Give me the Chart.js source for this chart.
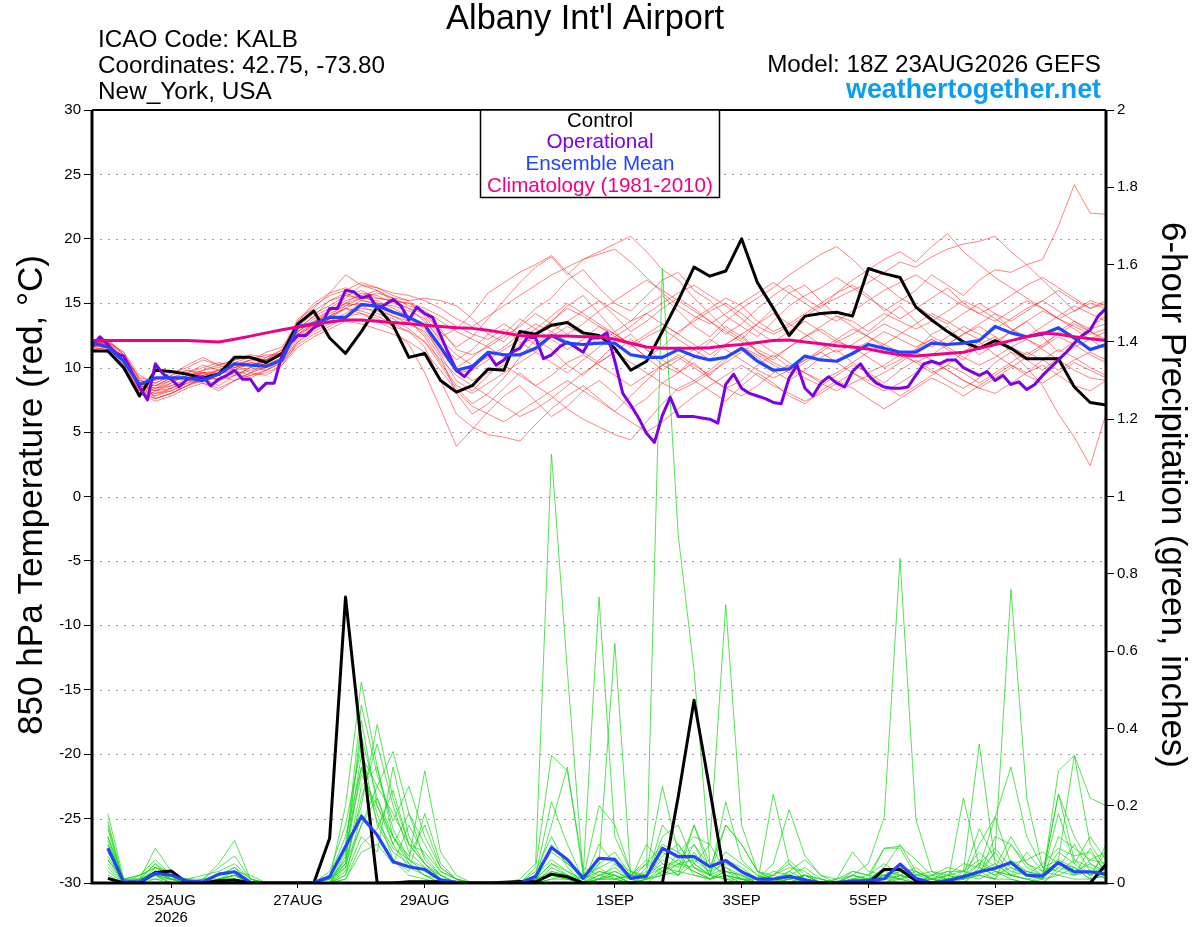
<!DOCTYPE html>
<html>
<head>
<meta charset="utf-8">
<title>Albany Int'l Airport - GEFS 850 hPa Temperature / 6-hour Precipitation</title>
<script src="https://cdn.jsdelivr.net/npm/chart.js@4.4.1/dist/chart.umd.min.js"></script>
<style>
  html, body { margin: 0; padding: 0; background: #fff; }
  canvas { display: block; }
</style>
</head>
<body>
<canvas id="gefsChart" width="1200" height="927"></canvas>
<script>
// x axis: forecast hour from 18Z 23AUG2026
const tickHours = [30, 78, 126, 198, 246, 294, 342];
const tickLabels = [['25AUG', '2026'], '27AUG', '29AUG', '1SEP', '3SEP', '5SEP', '7SEP'];

// 850 hPa temperature (C), every 6 h from hour 0
const controlTemp = [
  11.3, 11.3, 10.0, 7.8, 9.8, 9.7, 9.5, 9.2, 9.5, 10.8, 10.8, 10.4, 11.1,
  13.4, 14.4, 12.3, 11.1, 12.8, 14.7, 13.3, 10.8, 11.1, 9.0, 8.1, 8.6, 9.9,
  9.8, 12.8, 12.6, 13.3, 13.5, 12.7, 12.5, 11.5, 9.8, 10.5, 12.8, 15.2, 17.8,
  17.1, 17.5, 20.0, 16.6, 14.6, 12.5, 14.0, 14.2, 14.3, 14.0, 17.7, 17.3, 17.0,
  14.7, 13.7, 12.8, 12.0, 11.5, 12.1, 11.5, 10.7, 10.7, 10.7, 8.5, 7.3, 7.1
];
const meanTemp = [
  11.9, 11.6, 10.5, 8.7, 9.2, 9.2, 9.2, 9.0, 9.5, 10.3, 10.2, 10.1, 10.6,
  13.2, 13.4, 13.9, 13.9, 14.9, 14.8, 14.3, 13.9, 13.3, 11.6, 9.8, 10.1, 11.2,
  11.0, 11.0, 11.5, 12.5, 11.9, 11.8, 11.9, 11.9, 11.0, 10.8, 10.8, 11.4, 10.9,
  10.6, 10.8, 11.5, 10.5, 9.8, 9.9, 10.9, 10.6, 10.5, 11.1, 11.8, 11.5, 11.2,
  11.2, 11.9, 11.8, 11.9, 12.1, 13.2, 12.7, 12.4, 12.6, 13.1, 12.3, 11.4, 11.8
];
const climoTemp = [
  12.1, 12.1, 12.1, 12.1, 12.1, 12.1, 12.1, 12.05, 12.0, 12.2, 12.45, 12.7, 12.95,
  13.15, 13.35, 13.55, 13.7, 13.7, 13.6, 13.5, 13.4, 13.3, 13.2, 13.1, 13.05, 12.9,
  12.7, 12.5, 12.45, 12.45, 12.45, 12.4, 12.4, 12.2, 11.9, 11.6, 11.5, 11.5, 11.5,
  11.55, 11.7, 11.8, 11.95, 12.1, 12.15, 12.0, 11.85, 11.7, 11.6, 11.45, 11.2, 11.0,
  10.9, 11.0, 11.1, 11.2, 11.5, 11.8, 12.1, 12.4, 12.7, 12.6, 12.4, 12.25, 12.1
];
// operational run is 3-hourly
const operationalTemp = [
  11.6, 12.4, 11.8, 11.1, 10.9, 9.7, 8.5, 7.5, 10.3, 9.5,
  9.1, 8.5, 9.1, 9.2, 9.3, 8.6, 9.1, 9.4, 9.8, 9.1,
  9.1, 8.2, 8.8, 8.8, 11.0, 11.9, 12.5, 12.5, 13.1, 13.4,
  14.6, 14.6, 16.0, 15.9, 15.4, 15.6, 14.6, 14.9, 15.3, 14.8,
  13.7, 14.7, 14.2, 13.9, 12.5, 11.1, 9.8, 9.3, 10.0, 10.6,
  11.1, 10.2, 10.6, 11.2, 11.5, 12.4, 12.3, 10.7, 11.0, 11.6,
  12.0, 11.6, 11.2, 12.3, 12.3, 12.7, 10.5, 8.0, 7.1, 6.1,
  4.9, 4.2, 6.3, 7.7, 6.2, 6.2, 6.2, 6.1, 6.0, 5.7,
  8.7, 9.5, 8.4, 8.0, 7.8, 7.6, 7.3, 7.2, 9.2, 10.2,
  8.4, 7.8, 8.8, 9.3, 8.8, 8.5, 9.7, 10.3, 9.4, 8.8,
  8.5, 8.4, 8.4, 8.5, 9.4, 10.3, 10.5, 10.3, 10.6, 10.6,
  10.0, 9.7, 9.4, 9.7, 9.0, 9.4, 8.7, 8.9, 8.3, 8.7,
  9.4, 10.0, 10.6, 11.2, 11.9, 12.5, 12.9, 14.0, 14.6
];
// ensemble members, 6-hourly from hour 0
const tempMembers = [
  [12.0, 11.8, 10.6, 8.6, 8.2, 8.8, 9.4, 9.6, 9.0, 9.8, 10.4, 10.2, 10.8,
   12.6, 13.5, 14.2, 14.8, 15.4, 15.2, 14.6, 14.0, 13.2, 11.0, 9.0, 8.2, 9.4,
   10.6, 11.8, 12.4, 13.6, 14.8, 15.6, 14.2, 12.8, 11.6, 12.4, 13.0, 12.2, 11.4,
   10.6, 11.8, 12.6, 11.2, 10.4, 9.8, 10.6, 11.4, 12.2, 13.0, 12.4, 11.6, 10.8,
   11.4, 12.6, 13.2, 12.0, 11.0, 11.8, 12.8, 13.6, 12.4, 11.2, 12.0, 13.2, 14.0],
  [11.6, 12.2, 11.0, 9.2, 7.6, 8.0, 8.6, 9.2, 9.8, 10.2, 9.6, 10.4, 11.2,
   13.8, 14.6, 15.8, 16.2, 15.6, 16.0, 15.2, 15.0, 14.2, 12.8, 11.6, 12.4, 13.8,
   15.2, 16.6, 17.8, 18.6, 17.2, 18.4, 19.0, 19.6, 20.2, 19.0, 17.6, 16.8, 15.4,
   14.2, 13.0, 12.2, 13.4, 14.6, 15.8, 16.4, 15.2, 14.0, 13.6, 12.8, 13.8, 14.8,
   13.6, 12.4, 11.8, 12.6, 13.4, 14.2, 13.0, 12.2, 11.6, 12.8, 13.6, 12.8, 12.2],
  [12.2, 11.4, 10.2, 8.0, 7.4, 7.8, 8.4, 8.8, 8.2, 9.0, 9.6, 9.4, 10.2,
   12.0, 13.0, 13.8, 14.6, 14.2, 13.6, 13.0, 11.8, 9.6, 6.8, 3.9, 5.2, 6.6,
   7.8, 8.6, 7.4, 6.2, 7.0, 8.2, 9.0, 8.0, 6.8, 7.6, 8.8, 9.6, 10.4,
   9.2, 8.4, 9.0, 10.2, 11.0, 10.0, 9.2, 8.6, 9.4, 10.2, 9.6, 8.8, 9.8,
   10.6, 9.8, 9.0, 8.4, 9.2, 10.4, 11.2, 10.6, 9.8, 10.8, 11.6, 12.2, 11.4],
  [11.8, 12.0, 10.8, 8.8, 8.6, 9.2, 9.8, 9.4, 9.6, 10.4, 10.8, 10.6, 11.0,
   13.2, 14.2, 14.8, 15.6, 16.0, 15.4, 15.2, 15.0, 14.6, 14.0, 13.2, 12.6, 12.2,
   13.0, 12.0, 11.2, 12.4, 13.2, 12.6, 11.8, 12.8, 13.6, 14.2, 13.4, 12.6, 13.8,
   14.6, 15.4, 14.8, 13.6, 12.8, 13.4, 14.2, 15.0, 15.8, 16.4, 15.6, 14.4, 15.2,
   16.0, 17.2, 16.4, 15.6, 16.8, 17.6, 17.4, 18.0, 18.4, 21.0, 24.2, 22.0, 21.9],
  [11.4, 11.6, 10.4, 8.2, 7.8, 8.4, 9.0, 9.2, 8.6, 9.4, 10.0, 9.8, 10.6,
   12.8, 13.6, 14.4, 15.0, 14.8, 14.2, 13.8, 13.0, 12.0, 10.2, 8.4, 7.2, 8.0,
   9.2, 10.8, 12.2, 11.4, 10.2, 9.4, 10.6, 11.8, 12.6, 11.4, 10.2, 9.6, 10.8,
   12.0, 13.2, 12.4, 11.2, 10.6, 11.6, 12.4, 13.0, 12.2, 11.4, 12.0, 12.8, 12.2,
   11.6, 12.2, 11.4, 10.6, 11.8, 12.4, 11.2, 10.0, 8.6, 6.4, 4.6, 2.4, 6.4],
  [12.0, 12.0, 11.2, 9.4, 8.8, 9.4, 10.2, 10.8, 10.2, 10.6, 11.0, 10.8, 11.4,
   13.6, 15.0, 15.8, 17.2, 16.4, 16.0, 15.4, 15.2, 15.4, 15.2, 14.8, 13.8, 12.6,
   12.0, 13.4, 14.6, 15.4, 16.8, 17.6, 16.2, 15.0, 14.4, 15.6, 16.8, 17.4, 16.0,
   15.2, 14.0, 13.2, 12.4, 13.6, 14.8, 15.6, 16.2, 17.0, 16.2, 15.4, 14.6, 13.8,
   14.6, 15.4, 16.2, 15.0, 14.2, 13.6, 14.4, 15.2, 14.6, 13.8, 14.4, 15.0, 14.6],
  [11.6, 11.8, 10.8, 8.4, 8.0, 8.2, 8.8, 9.0, 9.2, 9.6, 9.2, 9.8, 10.4,
   12.2, 13.2, 13.6, 14.2, 15.0, 14.6, 14.0, 13.6, 12.6, 10.8, 8.0, 6.4, 7.2,
   8.4, 9.6, 8.6, 7.8, 6.8, 6.0, 5.4, 4.8, 4.4, 5.8, 7.2, 8.4, 9.0,
   8.2, 7.4, 8.6, 9.6, 8.8, 7.8, 7.2, 8.2, 9.0, 8.4, 7.6, 6.8, 7.6,
   8.4, 9.2, 8.6, 7.8, 8.6, 9.4, 10.2, 9.4, 8.8, 9.6, 10.4, 9.8, 9.2],
  [11.2, 11.4, 10.2, 8.2, 7.6, 8.0, 8.6, 9.0, 9.4, 9.0, 9.6, 10.0, 10.6,
   12.4, 13.4, 14.0, 14.6, 14.4, 14.0, 13.4, 12.8, 11.6, 9.0, 6.4, 5.4, 4.8,
   4.6, 4.3, 5.6, 6.8, 7.8, 8.6, 7.6, 6.6, 7.8, 9.0, 10.2, 11.0, 10.2,
   9.4, 10.6, 11.6, 10.8, 9.8, 9.0, 9.8, 10.8, 11.4, 10.4, 9.6, 10.2, 11.0,
   10.4, 9.6, 10.2, 11.2, 12.0, 11.0, 10.2, 9.6, 10.6, 11.4, 10.8, 10.0, 9.4],
  [11.8, 11.6, 10.4, 8.6, 8.4, 8.8, 9.6, 10.2, 9.8, 10.2, 10.6, 11.0, 11.0,
   13.0, 14.0, 14.6, 15.4, 16.4, 16.2, 15.6, 15.2, 14.0, 12.4, 13.0, 14.2, 15.8,
   16.6, 17.4, 18.0, 18.7, 17.4, 16.2, 15.2, 14.4, 13.6, 14.8, 15.6, 14.4, 13.2,
   12.4, 13.6, 14.6, 15.4, 16.2, 17.2, 18.0, 18.8, 19.4, 18.4, 17.2, 16.4, 15.4,
   14.8, 14.0, 13.4, 14.2, 15.0, 14.2, 13.6, 14.4, 15.2, 16.0, 15.2, 14.6, 15.0],
  [12.0, 11.8, 10.6, 8.8, 8.6, 9.0, 9.2, 9.8, 10.0, 10.4, 10.2, 10.6, 11.2,
   13.4, 14.4, 15.2, 15.8, 15.2, 15.0, 14.8, 14.4, 13.8, 12.0, 10.6, 11.4, 12.6,
   13.4, 12.6, 11.8, 12.8, 13.6, 14.4, 15.2, 14.0, 12.8, 13.6, 14.6, 15.4, 14.6,
   13.6, 12.6, 13.4, 14.6, 15.6, 16.4, 15.4, 14.6, 15.8, 16.8, 17.6, 18.4, 19.0,
   18.2, 19.4, 20.4, 19.0, 18.0, 17.0, 16.2, 15.4, 14.6, 13.8, 13.0, 12.2, 12.8],
  [11.6, 11.8, 10.8, 8.8, 8.4, 8.6, 9.0, 9.4, 9.8, 10.0, 10.4, 10.2, 10.8,
   12.6, 13.4, 14.4, 15.2, 15.6, 15.0, 14.4, 14.0, 13.2, 11.6, 10.0, 10.8, 11.8,
   12.6, 13.8, 13.0, 12.2, 11.4, 12.2, 13.2, 12.6, 11.8, 10.8, 11.6, 12.8, 13.6,
   14.4, 15.0, 14.2, 13.2, 12.6, 13.2, 14.0, 14.8, 15.4, 16.0, 16.6, 17.4, 18.2,
   17.8, 18.6, 19.2, 19.6, 19.8, 20.2, 19.0, 18.0, 16.8, 15.6, 14.4, 15.2, 14.8],
  [11.8, 12.0, 11.0, 9.0, 8.8, 9.4, 9.8, 9.6, 9.4, 10.0, 10.2, 10.4, 11.0,
   12.8, 13.8, 14.4, 15.0, 15.8, 15.6, 15.0, 14.6, 13.6, 12.2, 11.0, 10.2, 10.8,
   11.6, 12.6, 13.4, 12.8, 12.0, 11.2, 10.4, 11.2, 12.2, 11.4, 10.6, 9.8, 9.0,
   9.8, 10.8, 11.6, 11.0, 10.2, 9.6, 10.4, 11.2, 12.0, 11.6, 10.8, 10.0, 10.6,
   11.4, 12.2, 11.6, 10.8, 10.2, 10.8, 11.6, 12.2, 11.4, 10.6, 9.8, 9.2, 9.0],
  [11.4, 11.6, 10.6, 8.4, 8.2, 8.6, 9.2, 9.6, 9.8, 9.4, 10.0, 10.6, 11.2,
   12.4, 13.0, 13.8, 14.8, 15.0, 14.8, 14.4, 13.6, 12.4, 10.4, 8.6, 8.0, 8.8,
   9.6, 10.4, 11.2, 10.4, 9.6, 10.6, 11.6, 12.4, 11.8, 10.8, 9.8, 10.6, 11.4,
   12.2, 11.4, 10.6, 9.8, 9.2, 9.8, 10.6, 11.2, 10.4, 9.6, 9.0, 9.6, 10.4,
   11.2, 10.6, 9.8, 9.0, 8.4, 9.2, 10.0, 10.8, 11.6, 12.4, 11.8, 11.0, 10.4],
  [12.2, 11.6, 10.4, 8.4, 7.8, 8.2, 8.8, 9.4, 9.0, 9.4, 9.8, 10.0, 10.6,
   12.0, 12.8, 13.4, 14.0, 14.6, 14.4, 14.0, 13.4, 12.8, 11.2, 9.8, 9.0, 9.6,
   10.2, 9.4, 8.6, 9.4, 10.4, 11.0, 10.2, 9.4, 8.6, 9.4, 10.2, 10.8, 10.0,
   9.2, 8.4, 7.8, 8.6, 9.6, 10.2, 9.6, 8.8, 8.2, 8.8, 9.4, 8.6, 7.8,
   8.6, 9.4, 10.2, 9.6, 8.8, 9.6, 10.4, 11.2, 10.6, 9.8, 10.6, 11.2, 10.6],
  [11.8, 12.0, 11.2, 9.0, 8.6, 9.2, 9.6, 10.0, 10.4, 10.0, 10.6, 11.2, 11.6,
   13.6, 14.8, 15.6, 16.0, 16.6, 16.2, 15.8, 15.6, 15.2, 14.6, 13.8, 13.2, 14.0,
   14.8, 15.6, 16.4, 17.2, 17.8, 18.4, 18.8, 19.2, 18.2, 17.0, 15.8, 14.8, 14.0,
   13.4, 14.2, 15.0, 15.8, 16.6, 15.8, 15.0, 14.2, 13.6, 14.4, 15.2, 16.0, 16.6,
   17.2, 16.4, 15.6, 14.8, 14.2, 14.8, 15.6, 16.4, 17.0, 16.2, 15.4, 14.6, 15.2],
  [11.6, 11.4, 10.2, 8.0, 7.6, 8.0, 8.6, 9.2, 9.6, 9.8, 9.4, 9.8, 10.4,
   11.8, 12.6, 13.2, 14.0, 14.2, 13.8, 13.2, 12.8, 12.0, 10.6, 9.4, 8.6, 7.8,
   7.0, 6.2, 6.8, 7.6, 8.6, 9.6, 10.4, 11.2, 10.4, 9.6, 8.8, 8.2, 8.8,
   9.6, 10.4, 11.2, 12.0, 11.2, 10.4, 9.6, 9.0, 9.6, 10.4, 11.2, 11.8, 11.2,
   10.4, 11.0, 11.8, 12.6, 13.2, 12.4, 11.6, 11.0, 11.8, 12.6, 13.4, 12.8, 12.0],
  [12.0, 12.2, 11.0, 9.2, 9.0, 9.6, 10.0, 10.6, 10.2, 10.6, 10.8, 10.6, 11.4,
   13.0, 14.0, 15.2, 15.6, 15.4, 15.8, 15.4, 14.8, 14.4, 13.6, 12.8, 12.2, 11.6,
   10.8, 11.6, 12.6, 13.6, 14.6, 14.0, 13.2, 12.4, 13.2, 14.2, 15.0, 15.8, 16.4,
   15.6, 14.8, 13.8, 12.8, 12.0, 12.8, 13.6, 12.8, 12.0, 12.6, 13.4, 14.2, 13.6,
   13.0, 13.6, 14.4, 15.2, 14.6, 13.8, 13.0, 12.4, 13.2, 14.0, 14.8, 14.2, 13.6],
  [11.4, 11.2, 10.0, 8.2, 8.0, 8.4, 9.0, 8.8, 8.4, 9.0, 9.4, 9.6, 10.2,
   11.6, 12.4, 13.0, 13.6, 13.4, 13.0, 12.6, 12.0, 11.2, 9.8, 8.2, 7.0, 6.4,
   5.8, 6.6, 7.4, 8.2, 9.0, 8.2, 7.4, 6.6, 5.8, 5.0, 5.8, 6.8, 7.8,
   8.6, 9.4, 10.2, 9.4, 8.6, 8.0, 7.4, 8.0, 8.8, 9.6, 8.8, 8.2, 8.8,
   9.6, 10.4, 9.8, 9.0, 8.4, 8.0, 8.8, 9.6, 10.2, 9.4, 8.6, 8.2, 9.0],
  [11.8, 11.8, 10.8, 8.6, 8.4, 9.0, 9.4, 9.8, 10.2, 9.8, 10.0, 10.8, 11.2,
   12.8, 13.6, 14.0, 15.0, 15.4, 15.4, 15.2, 14.6, 14.2, 13.0, 11.4, 11.0, 11.6,
   12.4, 13.2, 14.2, 13.4, 12.6, 13.4, 14.4, 15.2, 16.0, 16.8, 16.0, 15.2, 14.4,
   13.6, 12.8, 12.0, 11.4, 10.8, 11.6, 12.4, 13.2, 14.0, 13.2, 12.4, 11.8, 12.6,
   13.4, 14.2, 13.6, 12.8, 12.2, 13.0, 13.8, 14.6, 15.2, 14.4, 13.6, 13.0, 13.4],
  [12.0, 11.6, 10.4, 8.8, 8.2, 8.4, 9.0, 9.6, 9.6, 10.2, 10.6, 10.4, 11.0,
   12.6, 13.2, 14.0, 14.6, 15.2, 15.0, 14.4, 13.8, 13.0, 11.4, 9.6, 9.8, 10.6,
   11.4, 12.2, 13.0, 14.0, 15.0, 14.2, 13.4, 12.6, 11.8, 12.6, 13.4, 12.6, 11.8,
   11.0, 11.8, 12.6, 13.4, 14.2, 13.4, 12.6, 11.8, 11.2, 11.8, 12.6, 13.4, 12.8,
   12.2, 11.6, 12.4, 13.2, 12.6, 12.0, 12.8, 13.6, 14.4, 13.8, 13.2, 12.6, 13.0]
];

// 6-hour precipitation (inches), every 6 h from hour 6
const controlPrecip = [
  0.012, 0, 0, 0.027, 0.031, 0, 0, 0.006, 0.008, 0, 0, 0, 0, 0, 0.116, 0.74,
  0.36, 0, 0, 0.003, 0.003, 0.003, 0.002, 0, 0, 0.002, 0.004, 0.003, 0.023, 0.016, 0, 0,
  0, 0, 0, 0, 0.223, 0.473, 0.24, 0, 0, 0, 0, 0, 0, 0, 0, 0,
  0, 0.035, 0.035, 0.006, 0, 0, 0, 0, 0, 0, 0, 0, 0, 0, 0, 0.048
];
const meanPrecip = [
  0.09, 0.003, 0.003, 0.025, 0.02, 0.005, 0.003, 0.023, 0.029, 0.002, 0, 0, 0, 0.001, 0.016, 0.094,
  0.172, 0.124, 0.055, 0.042, 0.035, 0.008, 0.002, 0.001, 0, 0, 0, 0.017, 0.092, 0.061, 0.012, 0.064,
  0.061, 0.012, 0.018, 0.09, 0.068, 0.068, 0.042, 0.058, 0.029, 0.01, 0.01, 0.017, 0.008, 0, 0.002, 0.004,
  0.006, 0.011, 0.049, 0.012, 0, 0.006, 0.016, 0.029, 0.038, 0.053, 0.02, 0.018, 0.053, 0.029, 0.029, 0.023
];
const precipMembers = [
  [0.12, 0, 0.01, 0.03, 0.01, 0, 0, 0.02, 0.04, 0, 0, 0, 0, 0, 0.02, 0.12,
   0.3, 0.18, 0.06, 0.02, 0.01, 0, 0, 0, 0, 0, 0, 0.01, 0.05, 0.02, 0, 0.01,
   0.02, 0, 0.04, 1.59, 0.9, 0.55, 0.05, 0.02, 0, 0, 0.01, 0.02, 0, 0, 0, 0.01,
   0, 0.02, 0.04, 0.01, 0, 0, 0.02, 0.05, 0.03, 0.01, 0, 0.02, 0.06, 0.04, 0.01, 0.02],
  [0.08, 0.01, 0.02, 0.06, 0.02, 0.01, 0, 0.01, 0.02, 0, 0, 0, 0, 0, 0, 0.05,
   0.42, 0.2, 0.1, 0.04, 0.02, 0.01, 0, 0, 0, 0, 0.01, 0.05, 1.11, 0.55, 0.02, 0.04,
   0.01, 0, 0.02, 0.05, 0.02, 0.08, 0.02, 0.04, 0.01, 0, 0.02, 0.05, 0.01, 0, 0, 0.02,
   0.01, 0, 0.02, 0.04, 0.01, 0, 0, 0.03, 0.08, 0.02, 0.01, 0, 0.04, 0.1, 0.03, 0.01],
  [0.15, 0, 0, 0.04, 0.03, 0, 0.01, 0.05, 0.11, 0.01, 0, 0, 0, 0, 0.01, 0.2,
   0.52, 0.3, 0.12, 0.05, 0.02, 0, 0, 0, 0, 0, 0, 0, 0.1, 0.05, 0.02, 0.74,
   0.12, 0.03, 0.01, 0.04, 0.06, 0.1, 0.02, 0.01, 0, 0, 0, 0.03, 0.06, 0.02, 0, 0,
   0.01, 0.04, 0.1, 0.03, 0.01, 0, 0.03, 0.08, 0.04, 0.12, 0.05, 0.02, 0.08, 0.05, 0.12, 0.06],
  [0.05, 0, 0.01, 0.02, 0.01, 0, 0, 0.01, 0.02, 0, 0, 0, 0, 0, 0, 0.06,
   0.2, 0.41, 0.22, 0.1, 0.05, 0.01, 0, 0, 0, 0, 0, 0.02, 0.06, 0.03, 0, 0.05,
   0.62, 0.02, 0.01, 0.12, 0.15, 0.05, 0.02, 0.15, 0.1, 0.03, 0.01, 0, 0.02, 0, 0, 0.03,
   0.02, 0.09, 0.095, 0.06, 0.02, 0.01, 0, 0.04, 0.02, 0.06, 0.03, 0.01, 0.05, 0.02, 0.03, 0.01],
  [0.1, 0.01, 0, 0.03, 0.02, 0, 0, 0, 0.01, 0, 0, 0, 0, 0, 0, 0.03,
   0.15, 0.25, 0.34, 0.18, 0.06, 0.02, 0, 0, 0, 0, 0, 0.01, 0.03, 0.02, 0, 0.02,
   0.04, 0.01, 0.05, 0.1, 0.08, 0.12, 0.1, 0.72, 0.15, 0.03, 0.01, 0.02, 0.04, 0.01, 0, 0.01,
   0, 0.01, 0.03, 0.01, 0, 0.02, 0.01, 0.03, 0.01, 0.1, 0.04, 0.02, 0.23, 0.12, 0.05, 0.03],
  [0.06, 0, 0.01, 0.05, 0.01, 0.01, 0.02, 0.03, 0.05, 0.01, 0, 0, 0, 0, 0, 0.08,
   0.46, 0.28, 0.16, 0.25, 0.12, 0.04, 0.01, 0, 0, 0, 0, 0, 0.02, 0.01, 0, 0.01,
   0.02, 0, 0.01, 0.03, 0.05, 0.04, 0.01, 0.03, 0.02, 0, 0, 0.01, 0.02, 0, 0.01, 0.02,
   0.05, 0.17, 0.84, 0.165, 0.03, 0.01, 0.02, 0.01, 0.03, 0.02, 0.01, 0, 0.03, 0.06, 0.02, 0.04],
  [0.18, 0.01, 0.01, 0.09, 0.03, 0, 0, 0.02, 0.03, 0, 0, 0, 0, 0, 0.03, 0.15,
   0.35, 0.15, 0.08, 0.05, 0.02, 0, 0, 0, 0, 0, 0, 0.01, 0.15, 0.3, 0.02, 0.01,
   0.05, 0.01, 0.02, 0.08, 0.05, 0.03, 0.01, 0.02, 0.01, 0, 0.01, 0.03, 0.01, 0, 0, 0.01,
   0, 0.02, 0.01, 0, 0.01, 0.02, 0.03, 0.02, 0.08, 0.76, 0.22, 0.04, 0.03, 0.02, 0.06, 0.08],
  [0.09, 0, 0, 0.02, 0, 0, 0.01, 0.01, 0.02, 0, 0, 0, 0, 0, 0, 0.04,
   0.25, 0.3, 0.14, 0.06, 0.29, 0.08, 0.02, 0, 0, 0, 0, 0, 0.02, 0.01, 0, 0.02,
   0.03, 0.01, 0.03, 0.25, 0.08, 0.02, 0.01, 0.03, 0.02, 0.01, 0.02, 0.06, 0.02, 0.01, 0, 0.02,
   0.01, 0.03, 0.02, 0.01, 0.01, 0.03, 0.03, 0.36, 0.05, 0.02, 0.03, 0.02, 0.18, 0.05, 0.02, 0.05],
  [0.12, 0.01, 0.02, 0.04, 0.02, 0, 0, 0.01, 0.02, 0, 0, 0, 0, 0, 0.02, 0.1,
   0.38, 0.22, 0.1, 0.18, 0.1, 0.03, 0.01, 0, 0, 0, 0, 0.04, 0.33, 0.29, 0.04, 0.02,
   0.01, 0.02, 0.06, 0.03, 0.02, 0.05, 0.02, 0.01, 0.01, 0, 0.23, 0.05, 0.01, 0, 0.01, 0.03,
   0.02, 0.01, 0.01, 0.03, 0.01, 0, 0.22, 0.04, 0.17, 0.3, 0.12, 0.04, 0.06, 0.33, 0.22, 0.2],
  [0.04, 0, 0.01, 0.03, 0.01, 0, 0.01, 0.04, 0.07, 0.01, 0, 0, 0, 0, 0, 0.02,
   0.18, 0.12, 0.06, 0.03, 0.18, 0.05, 0.01, 0, 0, 0, 0, 0.02, 0.21, 0.1, 0.01, 0.03,
   0.02, 0, 0.01, 0.15, 0.1, 0.04, 0.02, 0.21, 0.06, 0.02, 0, 0.01, 0.02, 0, 0, 0.01,
   0.01, 0.02, 0.04, 0.03, 0.01, 0.01, 0.02, 0.14, 0.06, 0.03, 0.02, 0.01, 0.29, 0.33, 0.1, 0.04],
  [0.14, 0, 0, 0.02, 0.01, 0.01, 0, 0.01, 0.03, 0.02, 0, 0, 0, 0, 0.01, 0.06,
   0.3, 0.16, 0.09, 0.06, 0.04, 0.02, 0, 0, 0, 0, 0, 0, 0.04, 0.02, 0.01, 0.2,
   0.15, 0.03, 0.02, 0.06, 0.04, 0.15, 0.05, 0.02, 0.01, 0.01, 0.05, 0.19, 0.07, 0.02, 0.01, 0.08,
   0.03, 0.02, 0.01, 0.02, 0.02, 0.03, 0.01, 0.02, 0.12, 0.1, 0.05, 0.03, 0.05, 0.02, 0.09, 0.02],
  [0.07, 0, 0.02, 0.04, 0.02, 0, 0, 0.01, 0.01, 0, 0, 0, 0, 0, 0, 0.02,
   0.12, 0.08, 0.3, 0.12, 0.05, 0.01, 0, 0, 0, 0, 0, 0.01, 0.02, 0.01, 0, 0.1,
   0.05, 0.02, 0.02, 0.04, 0.03, 0.1, 0.04, 0.15, 0.1, 0.03, 0.02, 0.01, 0.02, 0, 0, 0,
   0.01, 0.01, 0.02, 0, 0.02, 0.04, 0.03, 0.06, 0.03, 0.02, 0.08, 0.03, 0.02, 0.04, 0.01, 0.1],
  [0.1, 0.01, 0, 0.02, 0, 0, 0, 0, 0.01, 0, 0, 0, 0, 0, 0.01, 0.04,
   0.22, 0.36, 0.2, 0.08, 0.04, 0.01, 0, 0, 0, 0, 0, 0, 0.01, 0.02, 0, 0.03,
   0.02, 0.01, 0.1, 0.05, 0.02, 0.15, 0.03, 0.05, 0.03, 0.01, 0.01, 0.02, 0.01, 0, 0, 0,
   0, 0.01, 0.02, 0.01, 0, 0.01, 0.01, 0.1, 0.17, 0.05, 0.03, 0.02, 0.23, 0.06, 0.04, 0.02],
  [0.03, 0, 0.01, 0.01, 0.01, 0, 0, 0.02, 0.03, 0, 0, 0, 0, 0, 0, 0.01,
   0.1, 0.14, 0.24, 0.1, 0.08, 0.03, 0.01, 0, 0, 0, 0, 0.03, 0.12, 0.04, 0, 0.01,
   0.03, 0.01, 0, 0.03, 0.06, 0.03, 0.01, 0.04, 0.02, 0, 0, 0.01, 0, 0, 0, 0.01,
   0.01, 0.09, 0.09, 0.02, 0.01, 0, 0.02, 0.02, 0.01, 0.05, 0.06, 0.08, 0.05, 0.04, 0.02, 0.08],
  [0.16, 0, 0.01, 0.05, 0.02, 0, 0, 0.01, 0.02, 0, 0, 0, 0, 0, 0.02, 0.09,
   0.28, 0.2, 0.12, 0.07, 0.15, 0.04, 0.01, 0, 0, 0, 0, 0.01, 0.05, 0.03, 0.01, 0.05,
   0.08, 0.02, 0.02, 0.07, 0.1, 0.04, 0.02, 0.06, 0.04, 0.01, 0.02, 0.04, 0.03, 0, 0, 0.02,
   0.01, 0.02, 0.03, 0.02, 0.03, 0.02, 0.05, 0.04, 0.02, 0.04, 0.02, 0.01, 0.12, 0.09, 0.06, 0.05],
  [0.11, 0, 0, 0.03, 0.01, 0.01, 0.01, 0.02, 0.04, 0.01, 0, 0, 0, 0, 0, 0.07,
   0.33, 0.25, 0.18, 0.1, 0.05, 0.02, 0, 0, 0, 0, 0, 0, 0.03, 0.02, 0, 0.01,
   0.01, 0.02, 0.05, 0.02, 0.05, 0.06, 0.03, 0.08, 0.05, 0.02, 0.01, 0.01, 0.02, 0.01, 0, 0,
   0, 0, 0.01, 0, 0, 0.01, 0.02, 0.03, 0.05, 0.02, 0.01, 0.02, 0.04, 0.03, 0.05, 0.02],
  [0.06, 0.01, 0.01, 0.02, 0.01, 0, 0, 0.01, 0.02, 0, 0, 0, 0, 0, 0.01, 0.05,
   0.15, 0.22, 0.12, 0.06, 0.03, 0.01, 0, 0, 0, 0, 0, 0.02, 0.08, 0.05, 0.01, 0.04,
   0.06, 0.03, 0.01, 0.02, 0.08, 0.05, 0.1, 0.03, 0.01, 0.01, 0.03, 0.02, 0.01, 0, 0, 0.01,
   0.02, 0.05, 0.02, 0.01, 0.01, 0.02, 0.01, 0.05, 0.09, 0.04, 0.02, 0.05, 0.09, 0.07, 0.08, 0.03],
  [0.02, 0, 0, 0.01, 0, 0, 0, 0.01, 0.01, 0, 0, 0, 0, 0, 0, 0.01,
   0.08, 0.1, 0.05, 0.15, 0.07, 0.02, 0, 0, 0, 0, 0, 0, 0.01, 0.01, 0, 0.01,
   0.01, 0, 0.01, 0.02, 0.03, 0.02, 0.01, 0.02, 0.01, 0, 0, 0, 0.01, 0, 0, 0,
   0, 0.01, 0, 0, 0, 0, 0.01, 0.02, 0.01, 0.01, 0, 0.01, 0.02, 0.01, 0.01, 0.02]
];

const FONT = '"Liberation Sans", Arial, Helvetica, sans-serif';

// turn a value list into {x: hour, y} points
const every6 = (vals, firstHour) => vals.map((v, k) => ({ x: firstHour + k * 6, y: v }));
const every3 = vals => vals.map((v, k) => ({ x: k * 3, y: v }));

const datasets = [];
tempMembers.forEach(m => datasets.push({
  data: every6(m, 0), yAxisID: 'y', borderColor: 'rgba(255,30,30,0.7)', borderWidth: 0.8, order: 10
}));
precipMembers.forEach(m => datasets.push({
  data: every6(m, 6), yAxisID: 'y2', borderColor: 'rgba(20,215,20,0.9)', borderWidth: 0.8, order: 9
}));
datasets.push({ data: every6(controlPrecip, 6), yAxisID: 'y2', borderColor: '#000000', borderWidth: 3, order: 6 });
datasets.push({ data: every6(meanPrecip, 6), yAxisID: 'y2', borderColor: '#2244ff', borderWidth: 3.2, order: 5 });
datasets.push({ data: every6(controlTemp, 0), yAxisID: 'y', borderColor: '#000000', borderWidth: 3, order: 4 });
datasets.push({ data: every3(operationalTemp), yAxisID: 'y', borderColor: '#8000e6', borderWidth: 3, order: 3 });
datasets.push({ data: every6(meanTemp, 0), yAxisID: 'y', borderColor: '#2244ff', borderWidth: 3.2, order: 2 });
datasets.push({ data: every6(climoTemp, 0), yAxisID: 'y', borderColor: '#ee0088', borderWidth: 3, order: 1 });

// text sized so it spans a given width
function fitText(ctx, text, x, y, width, align, color, weight) {
  ctx.font = (weight || 'normal') + ' 20px ' + FONT;
  const size = 20 * width / ctx.measureText(text).width;
  ctx.font = (weight || 'normal') + ' ' + size.toFixed(2) + 'px ' + FONT;
  ctx.textAlign = align;
  ctx.textBaseline = 'alphabetic';
  ctx.fillStyle = color;
  ctx.fillText(text, x, y);
}

const decorations = {
  id: 'decorations',
  beforeDatasetsDraw(chart) {
    const { ctx, chartArea: a, scales } = chart;
    ctx.save();
    ctx.strokeStyle = '#9a9a9a';
    ctx.lineWidth = 1;
    ctx.setLineDash([2, 6]);
    scales.y.ticks.forEach(t => {
      if (t.value <= -30 || t.value >= 30) return;
      const py = Math.round(scales.y.getPixelForValue(t.value)) + 0.5;
      ctx.beginPath();
      ctx.moveTo(a.left, py);
      ctx.lineTo(a.right, py);
      ctx.stroke();
    });
    ctx.restore();
  },
  afterDraw(chart) {
    const { ctx, chartArea: a } = chart;
    ctx.save();

    // frame
    ctx.strokeStyle = '#000';
    ctx.lineWidth = 3;
    ctx.beginPath();
    ctx.moveTo(a.left, a.top); ctx.lineTo(a.left, a.bottom); ctx.lineTo(a.right, a.bottom); ctx.lineTo(a.right, a.top);
    ctx.stroke();
    ctx.lineWidth = 2;
    ctx.beginPath();
    ctx.moveTo(a.left, a.top); ctx.lineTo(a.right, a.top);
    ctx.stroke();

    // legend box
    ctx.fillStyle = '#fff';
    ctx.fillRect(480, 110, 240, 88);
    ctx.lineWidth = 1.5;
    ctx.strokeRect(480.5, 110, 239, 87.5);
    fitText(ctx, 'Control', 600, 127, 66, 'center', '#000');
    fitText(ctx, 'Operational', 600, 148, 107, 'center', '#8000e6');
    fitText(ctx, 'Ensemble Mean', 600, 170, 149, 'center', '#2244ff');
    fitText(ctx, 'Climatology (1981-2010)', 600, 192, 226, 'center', '#ee0088');

    // headings
    fitText(ctx, "Albany Int'l Airport", 585, 29, 278, 'center', '#000');
    fitText(ctx, 'ICAO Code: KALB', 98, 47, 200, 'left', '#000');
    fitText(ctx, 'Coordinates: 42.75, -73.80', 98, 73, 287, 'left', '#000');
    fitText(ctx, 'New_York, USA', 98, 99, 174, 'left', '#000');
    fitText(ctx, 'Model: 18Z 23AUG2026 GEFS', 1101, 72, 334, 'right', '#000');
    fitText(ctx, 'weathertogether.net', 1101, 98, 255, 'right', '#0a9ef2', 'bold');

    // axis titles
    ctx.save();
    ctx.translate(42, 495);
    ctx.rotate(-Math.PI / 2);
    fitText(ctx, '850 hPa Temperature (red, °C)', 0, 0, 480, 'center', '#000');
    ctx.restore();
    ctx.save();
    ctx.translate(1162, 495);
    ctx.rotate(Math.PI / 2);
    fitText(ctx, '6-hour Precipitation (green, inches)', 0, 0, 546, 'center', '#000');
    ctx.restore();

    ctx.restore();
  }
};

const tickFont = { family: FONT, size: 15, lineHeight: 1.16 };

new Chart(document.getElementById('gefsChart'), {
  type: 'line',
  data: { datasets: datasets },
  options: {
    responsive: false,
    animation: false,
    devicePixelRatio: 1,
    layout: { padding: { top: 110, left: 0, right: 0, bottom: 0 } },
    elements: { point: { radius: 0 }, line: { tension: 0, borderJoinStyle: 'round' } },
    plugins: { legend: { display: false }, tooltip: { enabled: false } },
    scales: {
      x: {
        type: 'linear', position: 'bottom', min: 0, max: 384,
        afterBuildTicks: s => { s.ticks = tickHours.map(h => ({ value: h })); },
        afterFit: s => { s.height = 44; },
        border: { display: false },
        grid: { drawOnChartArea: false, drawTicks: true, tickLength: 5, tickColor: '#000', tickWidth: 1 },
        ticks: {
          autoSkip: false, maxRotation: 0, padding: 4, color: '#000', font: tickFont,
          callback: v => tickLabels[tickHours.indexOf(v)]
        }
      },
      y: {
        position: 'left', min: -30, max: 30,
        afterFit: s => { s.width = 92; },
        border: { display: false },
        grid: { drawOnChartArea: false, drawTicks: true, tickLength: 8, tickColor: '#000', tickWidth: 1 },
        ticks: { stepSize: 5, padding: 3, color: '#000', font: tickFont }
      },
      y2: {
        position: 'right', min: 0, max: 2,
        afterFit: s => { s.width = 94; },
        border: { display: false },
        grid: { drawOnChartArea: false, drawTicks: true, tickLength: 8, tickColor: '#000', tickWidth: 1 },
        ticks: { stepSize: 0.2, padding: 3, color: '#000', font: tickFont, callback: v => String(Number(v.toFixed(1))) }
      }
    }
  },
  plugins: [decorations]
});
</script>
</body>
</html>
